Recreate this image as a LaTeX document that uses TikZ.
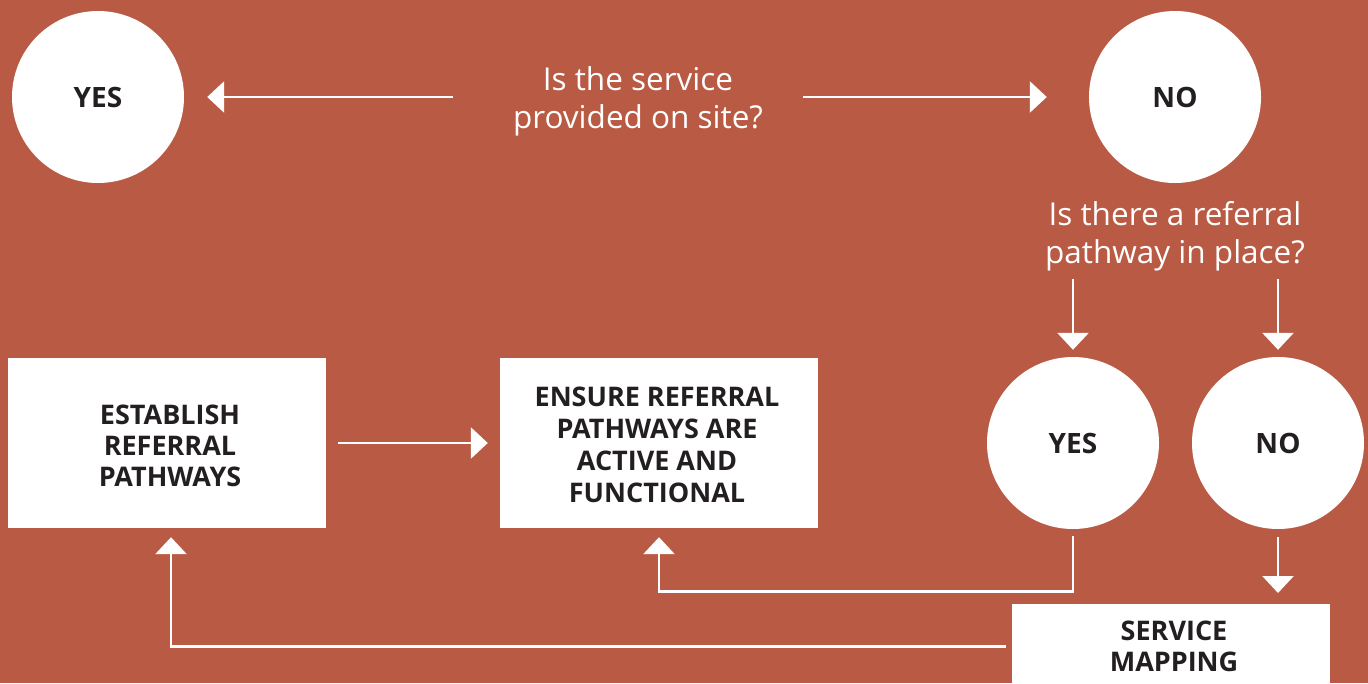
\documentclass[tikz,border=0pt]{standalone}
\usepackage{fontspec}
\setmainfont{Open Sans}
\usetikzlibrary{arrows.meta}
\definecolor{rust}{HTML}{B95A44}
\definecolor{ink}{HTML}{231F20}
\tikzset{
  circ/.style={circle, fill=white, minimum size=172pt, inner sep=0pt,
    text=ink, font=\fontsize{28}{32}\selectfont\bfseries},
  box/.style={rectangle, fill=white, minimum width=318pt, minimum height=170pt,
    inner sep=0pt, text=ink, align=center,
    font=\fontsize{27}{32}\selectfont\bfseries},
  boxtext/.style={text=ink, align=center, inner sep=0pt,
    font=\fontsize{27}{31}\selectfont\bfseries},
  question/.style={text=white, align=center, inner sep=0pt,
    font=\fontsize{31.5}{38}\selectfont},
  arr/.style={draw=white, line width=2.8pt,
    -{Triangle[length=17pt, width=31pt]}},
}
\begin{document}
\begin{tikzpicture}[x=1pt, y=-1pt]
  \fill[rust] (0,0) rectangle (1368,683);
  \useasboundingbox (0,0) rectangle (1368,683);
  \clip (0,0) rectangle (1368,683);

  % first question and its answers
  \node[circ] (yes1) at (98,97) {YES};
  \node[circ] (no1) at (1175,97) {NO};
  \node[question] (q1) at (638,101) {Is the service\\provided on site?};
  \draw[arr, shorten >=23pt] ([xshift=-185pt]q1.center |- yes1.east) -- (yes1.east);
  \draw[arr, shorten >=42pt] ([xshift=165pt]q1.center |- no1.west) -- (no1.west);

  % second question and its answers
  \node[question] (q2) at (1175,236) {Is there a referral\\pathway in place?};
  \node[circ] (yes2) at (1073,443) {YES};
  \node[circ] (no2) at (1278,443) {NO};
  \coordinate (s1) at (1073,279);
  \coordinate (s2) at (1278,279);
  \draw[arr, shorten >=7pt] (s1) -- (yes2.north);
  \draw[arr, shorten >=7pt] (s2) -- (no2.north);

  % actions
  \node[box] (est) at (167,443) {};
  \node[boxtext] (esttxt) at (170,446) {ESTABLISH\\REFERRAL\\PATHWAYS};
  \node[box] (ens) at (659,443) {};
  \node[boxtext, font=\fontsize{27}{32}\selectfont\bfseries] (enstxt) at (657,445)
    {ENSURE REFERRAL\\PATHWAYS ARE\\ACTIVE AND\\FUNCTIONAL};
  \node[box, anchor=north] (map) at (1171,604) {};
  \node[boxtext] (maptxt) at (1174,646) {SERVICE\\MAPPING};

  \draw[arr, shorten <=12pt, shorten >=12pt] (est.east) -- (ens.west);
  \draw[arr, shorten <=7pt, shorten >=9pt]
    (yes2.south) |- ([yshift=-63pt]ens.south) -- (ens.south);
  \draw[arr, shorten <=8pt, shorten >=11pt] (no2.south) -- (no2.south |- map.north);
  \draw[arr, shorten <=6pt, shorten >=9pt]
    ([yshift=43pt]map.west) -| ([xshift=4pt]est.south);
\end{tikzpicture}
\end{document}
